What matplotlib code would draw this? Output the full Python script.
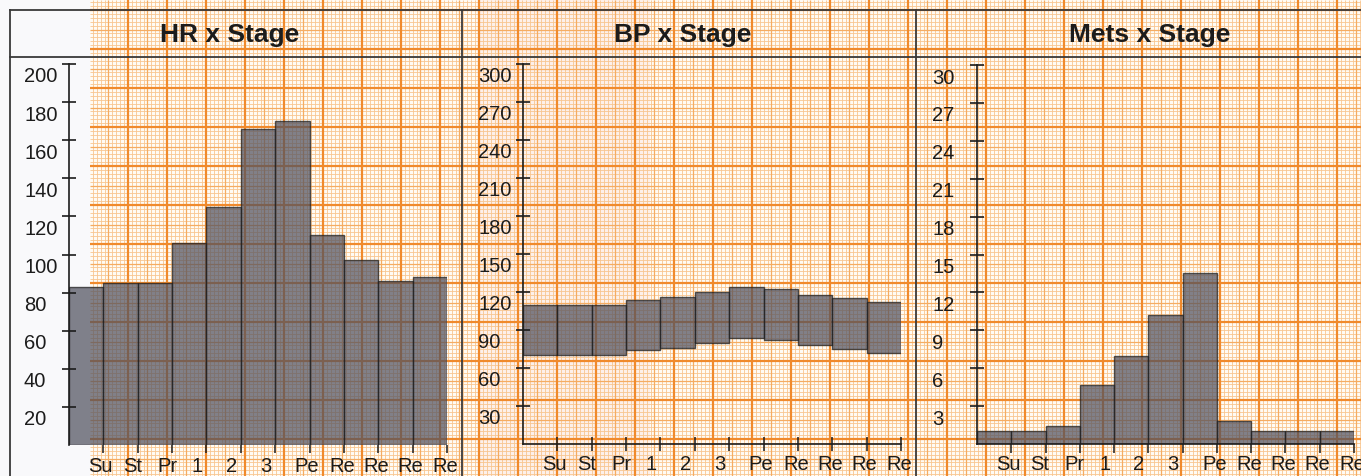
import numpy as np
import matplotlib.pyplot as plt
from matplotlib.collections import LineCollection
from matplotlib.patches import Rectangle
from matplotlib.transforms import ScaledTranslation

plt.rcParams['font.family'] = ['Liberation Sans', 'DejaVu Sans']

# data
stages = ['Su', 'St', 'Pr', '1', '2', '3', 'Pe', 'Re', 'Re', 'Re', 'Re']
hr = [83, 85, 85, 106, 125, 166, 170, 110, 97, 86, 88]
bp_sys = [110, 110, 110, 114, 116, 120, 124, 122, 118, 115, 112]
bp_dia = [70, 70, 70, 74, 76, 80, 84, 82, 78, 75, 72]
mets = [1.0, 1.0, 1.4, 4.7, 7.0, 10.2, 13.5, 1.8, 1.0, 1.0, 1.0]

hr_ticks = list(range(20, 201, 20))
bp_ticks = list(range(30, 301, 30))
mets_ticks = list(range(3, 31, 3))

W, H = 1361, 476
ink = '#1c1c1c'
bar_col = '#50515f'

fig = plt.figure(figsize=(W / 100, H / 100), dpi=100)
fig.patch.set_facecolor('#f9f9fb')

# --- graph paper background (pixel coords) ---
bg = fig.add_axes([0, 0, 1, 1])
bg.set_xlim(0, W)
bg.set_ylim(H, 0)
bg.axis('off')
bg.add_patch(Rectangle((90, 0), W - 90, H, color='#fffbf4', lw=0, zorder=0))
bg.add_patch(Rectangle((480, 0), 170, H, color='#e86a6a', alpha=0.07, lw=0, zorder=0))

step = 3.9


def paper_lines(start, lo, hi):
    k = np.arange(int(np.floor((lo - start) / step)), int(np.ceil((hi - start) / step)) + 1)
    pos = start + k * step
    keep = (pos >= lo) & (pos <= hi)
    return pos[keep], k[keep]


xs, kx = paper_lines(128, 90, W)
ys, ky = paper_lines(88, 0, H)
styles = [(lambda k: (k % 5 != 0), '#f8c690', 0.6),
          (lambda k: (k % 5 == 0) & (k % 10 != 0), '#f5ac62', 0.9),
          (lambda k: (k % 10 == 0), '#f08a2c', 1.6)]
for sel, col, lw in styles:
    segs = [[(x, 0), (x, H)] for x in xs[sel(kx)]]
    segs += [[(90, y), (W, y)] for y in ys[sel(ky)]]
    bg.add_collection(LineCollection(segs, colors=col, linewidths=lw, zorder=1))

# form frame
for xa, ya in [([10, W], [10, 10]), ([10, W], [57, 57]), ([10, 10], [10, H]),
               ([462, 462], [10, H]), ([916, 916], [10, H])]:
    bg.plot(xa, ya, color='#3a3a3a', lw=1.3, zorder=2)

for x, t in [(230, 'HR x Stage'), (683, 'BP x Stage'), (1150, 'Mets x Stage')]:
    bg.text(x, 35, t, ha='center', va='center', fontsize=19, fontweight='bold', color=ink)


def panel(x0, x1, y0, y1, top, ticks, xdir, xlen, spines):
    ax = fig.add_axes([x0 / W, (H - y0) / H, (x1 - x0) / W, (y0 - y1) / H])
    ax.set_xlim(0, 11)
    ax.set_ylim(0, top)
    ax.patch.set_visible(False)
    for s in ['left', 'right', 'top', 'bottom']:
        ax.spines[s].set_visible(s in spines)
        ax.spines[s].set_color(ink)
        ax.spines[s].set_linewidth(1.2)
    ax.set_yticks(ticks)
    ax.set_xticks(range(1, 12))
    ax.tick_params(axis='y', direction='inout', length=10, width=1.2, color=ink,
                   labelleft=False)
    ax.tick_params(axis='x', direction=xdir, length=xlen, width=1.1, color=ink,
                   labelbottom=False)
    # labels of the printout sit a little below their ticks
    ty = ax.get_yaxis_transform() + ScaledTranslation(-45 / 100, -13 / 100, fig.dpi_scale_trans)
    for v in ticks:
        ax.text(0, v, str(v), transform=ty, ha='left', va='center', fontsize=14.5, color=ink)
    tx = ax.get_xaxis_transform() + ScaledTranslation(-15 / 100, -21 / 100, fig.dpi_scale_trans)
    for i, s in enumerate(stages):
        ax.text(i + 1, 0, s, transform=tx, ha='left', va='center', fontsize=14.5, color=ink)
    return ax


x = np.arange(len(stages))

ax1 = panel(69, 447, 445, 64, 200, hr_ticks, 'out', 6, ['left'])
ax1.bar(x, hr, width=1, align='edge', color=bar_col, alpha=0.72,
        edgecolor=ink, linewidth=1)

ax2 = panel(523, 901, 444, 64, 300, bp_ticks, 'inout', 10, ['left', 'bottom'])
ax2.bar(x, np.array(bp_sys) - np.array(bp_dia), bottom=bp_dia, width=1, align='edge',
        color=bar_col, alpha=0.72, edgecolor=ink, linewidth=1)

ax3 = panel(977, 1354, 444, 65, 30, mets_ticks, 'out', 6.5, ['left', 'bottom'])
ax3.bar(x, mets, width=1, align='edge', color=bar_col, alpha=0.72,
        edgecolor=ink, linewidth=1)

fig.savefig('out.png', dpi=100, facecolor=fig.get_facecolor())
